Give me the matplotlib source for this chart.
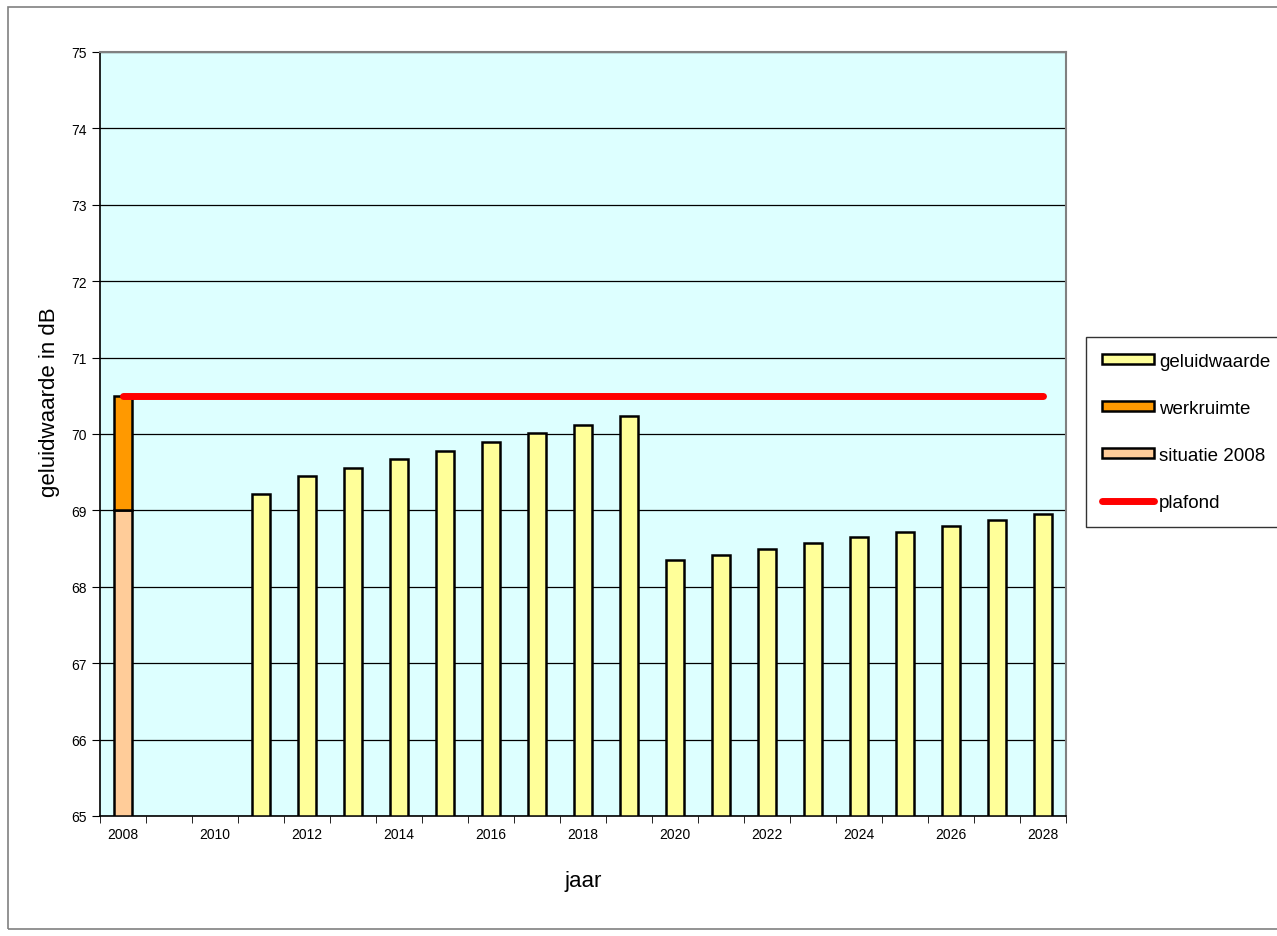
import matplotlib.pyplot as plt
import numpy as np

plt.rcParams["font.family"] = ["Liberation Sans", "DejaVu Sans"]

years = list(range(2008, 2029))
geluidwaarde = [np.nan, np.nan, np.nan, 69.22, 69.45, 69.56, 69.67, 69.78, 69.90,
                70.01, 70.12, 70.24, 68.35, 68.42, 68.50, 68.57, 68.65, 68.72,
                68.80, 68.87, 68.95]
situatie_2008 = [69.0] + [np.nan] * 20
werkruimte = [1.5] + [np.nan] * 20
plafond = [70.5] * 21

ymin, ymax = 65, 75

fig = plt.figure(figsize=(12.77, 9.37), dpi=100)
ax = fig.add_axes([100 / 1277, 1 - 817 / 937, 966 / 1277, 764 / 937])

# outer frame of the chart area
frame = plt.Rectangle((8 / 1277, 1 - 930 / 937), 1.0, 922 / 937,
                      transform=fig.transFigure, fill=False,
                      edgecolor="#808080", lw=1.2)
fig.patches.append(frame)

x = np.arange(len(years))
w = 0.4
ax.set_facecolor("#ddffff")

geo = np.array(geluidwaarde)
ax.bar(x, geo - ymin, bottom=ymin, width=w, color="#ffff99",
       edgecolor="black", lw=1.8, label="geluidwaarde", zorder=3)
sit = np.array(situatie_2008)
ax.bar(x, sit - ymin, bottom=ymin, width=w, color="#ffcc99",
       edgecolor="black", lw=1.8, label="situatie 2008", zorder=3)
ax.bar(x, werkruimte, bottom=sit, width=w, color="#ff9900",
       edgecolor="black", lw=1.8, label="werkruimte", zorder=3)
ax.plot(x, plafond, color="red", lw=5, solid_capstyle="round",
        label="plafond", zorder=4)

ax.set_xlim(-0.5, len(years) - 0.5)
ax.set_ylim(ymin, ymax)
ax.set_yticks(range(ymin, ymax + 1))
ax.yaxis.grid(True, color="black", lw=0.9)
ax.set_axisbelow(True)

ax.set_xticks(x[::2])
ax.set_xticklabels([str(y) for y in years[::2]], fontsize=10)
ax.set_xticks(np.arange(-0.5, len(years)), minor=True)
ax.tick_params(axis="x", which="major", length=0, pad=8)
ax.tick_params(axis="x", which="minor", length=5, color="black")
ax.tick_params(axis="y", labelsize=10, length=6, direction="out")

for s in ["top", "right"]:
    ax.spines[s].set_color("#808080")
    ax.spines[s].set_linewidth(1.5)
for s in ["left", "bottom"]:
    ax.spines[s].set_color("black")
    ax.spines[s].set_linewidth(1.2)

fig.text(50 / 1277, 1 - 402 / 937, "geluidwaarde in dB", fontsize=16,
         rotation=90, ha="center", va="center")
fig.text(583 / 1277, 1 - 882 / 937, "jaar", fontsize=16,
         ha="center", va="center")

handles, labels = ax.get_legend_handles_labels()
order = ["geluidwaarde", "werkruimte", "situatie 2008", "plafond"]
hmap = dict(zip(labels, handles))
leg = fig.legend([hmap[k] for k in order], order,
                 loc="upper left", bbox_to_anchor=(1086 / 1277, 1 - 338 / 937),
                 frameon=True, fancybox=False, edgecolor="black",
                 fontsize=13.5, handlelength=2.8, handleheight=0.45,
                 handletextpad=0.25, labelspacing=1.6, borderpad=0.85,
                 borderaxespad=0)
leg.get_frame().set_linewidth(1.0)

fig.savefig("out.png", dpi=100)
